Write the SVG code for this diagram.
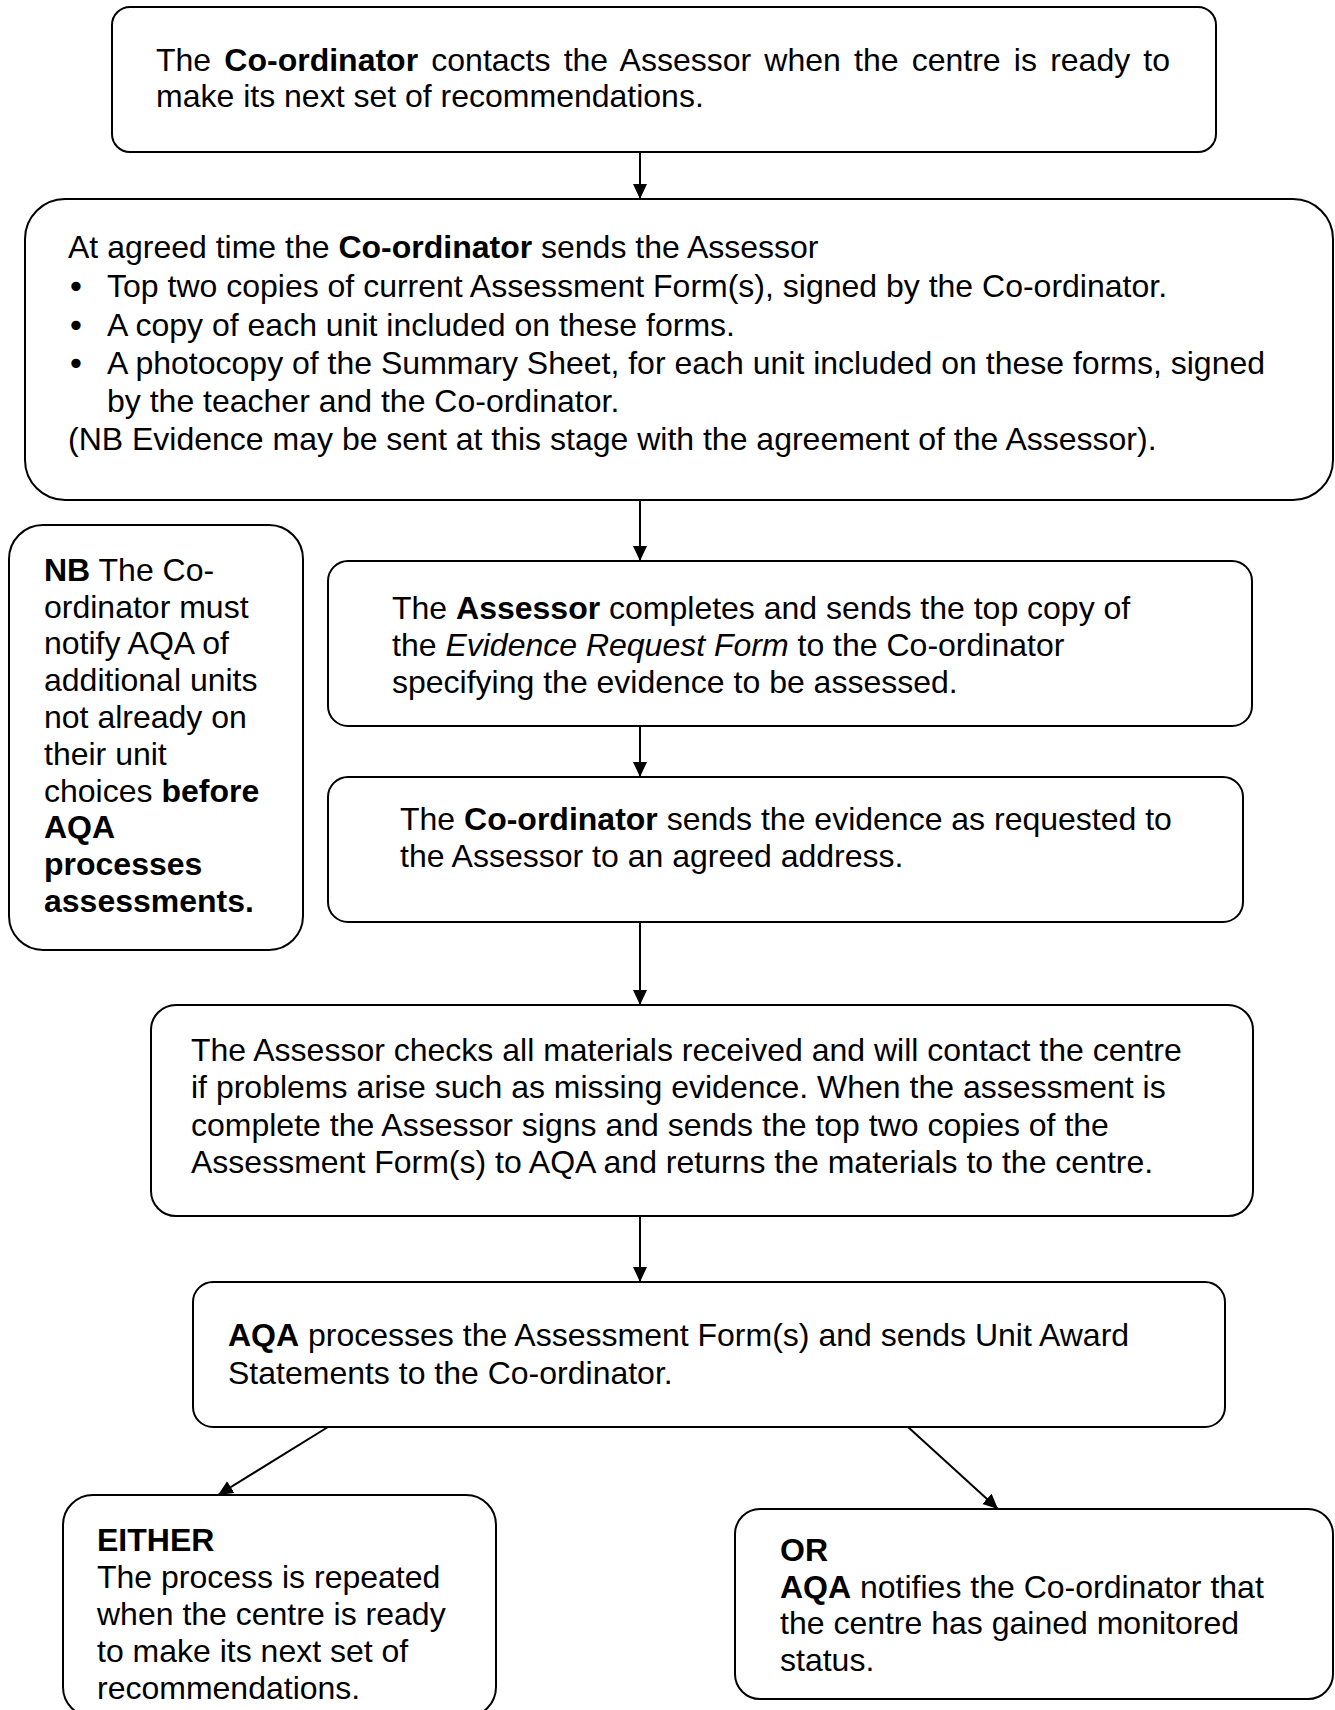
<svg xmlns="http://www.w3.org/2000/svg" width="1335" height="1710" viewBox="0 0 1335 1710">
<style>
.box{fill:#fff;stroke:#000;stroke-width:2}
text{font-family:"Liberation Sans",Arial,sans-serif;font-size:32px;fill:#000}
.b{font-weight:bold}
.i{font-style:italic}
.bul{font-family:"DejaVu Sans",sans-serif;font-size:32px}
.conn line{stroke:#000;stroke-width:2}
</style>
<defs>
<marker id="arr" markerUnits="userSpaceOnUse" markerWidth="16" markerHeight="16" refX="15" refY="7" orient="auto">
<path d="M0,0 L15,7 L0,14 z" fill="#000"/>
</marker>
</defs>
<rect width="1335" height="1710" fill="#fff"/>
<g class="conn">
<line x1="640" y1="152" x2="640" y2="199" marker-end="url(#arr)"/>
<line x1="640" y1="500" x2="640" y2="561" marker-end="url(#arr)"/>
<line x1="640" y1="726" x2="640" y2="777" marker-end="url(#arr)"/>
<line x1="640" y1="922" x2="640" y2="1005" marker-end="url(#arr)"/>
<line x1="640" y1="1216" x2="640" y2="1282" marker-end="url(#arr)"/>
<line x1="328" y1="1427" x2="218" y2="1495" marker-end="url(#arr)"/>
<line x1="908" y1="1427" x2="998" y2="1509" marker-end="url(#arr)"/>
</g>
<g id="n1">
<rect class="box" x="112" y="7" width="1104" height="145" rx="18"/>
<text x="156" y="71" word-spacing="4.3">The <tspan class="b">Co-ordinator</tspan> contacts the Assessor when the centre is ready to</text>
<text x="156" y="107">make its next set of recommendations.</text>
</g>
<g id="n2">
<rect class="box" x="25" y="199" width="1308" height="301" rx="40"/>
<text x="68" y="258">At agreed time the <tspan class="b">Co-ordinator</tspan> sends the Assessor</text>
<text class="bul" x="76" y="298" text-anchor="middle">•</text>
<text x="107" y="297">Top two copies of current Assessment Form(s), signed by the Co-ordinator.</text>
<text class="bul" x="76" y="337" text-anchor="middle">•</text>
<text x="107" y="336">A copy of each unit included on these forms.</text>
<text class="bul" x="76" y="375" text-anchor="middle">•</text>
<text x="107" y="374">A photocopy of the Summary Sheet, for each unit included on these forms, signed</text>
<text x="107" y="412">by the teacher and the Co-ordinator.</text>
<text x="68" y="450">(NB Evidence may be sent at this stage with the agreement of the Assessor).</text>
</g>
<g id="nb">
<rect class="box" x="9" y="525" width="294" height="425" rx="34"/>
<text x="44" y="581"><tspan class="b">NB</tspan> The Co-</text>
<text x="44" y="618">ordinator must</text>
<text x="44" y="654">notify AQA of</text>
<text x="44" y="691">additional units</text>
<text x="44" y="728">not already on</text>
<text x="44" y="765">their unit</text>
<text x="44" y="802">choices <tspan class="b">before</tspan></text>
<text x="44" y="838" class="b">AQA</text>
<text x="44" y="875" class="b">processes</text>
<text x="44" y="912" class="b">assessments.</text>
</g>
<g id="n3">
<rect class="box" x="328" y="561" width="924" height="165" rx="20"/>
<text x="392" y="619">The <tspan class="b">Assessor</tspan> completes and sends the top copy of</text>
<text x="392" y="656">the <tspan class="i">Evidence Request Form</tspan> to the Co-ordinator</text>
<text x="392" y="693">specifying the evidence to be assessed.</text>
</g>
<g id="n4">
<rect class="box" x="328" y="777" width="915" height="145" rx="20"/>
<text x="400" y="830">The <tspan class="b">Co-ordinator</tspan> sends the evidence as requested to</text>
<text x="400" y="867">the Assessor to an agreed address.</text>
</g>
<g id="n5">
<rect class="box" x="151" y="1005" width="1102" height="211" rx="25"/>
<text x="191" y="1061">The Assessor checks all materials received and will contact the centre</text>
<text x="191" y="1098">if problems arise such as missing evidence. When the assessment is</text>
<text x="191" y="1136">complete the Assessor signs and sends the top two copies of the</text>
<text x="191" y="1173">Assessment Form(s) to AQA and returns the materials to the centre.</text>
</g>
<g id="n6">
<rect class="box" x="193" y="1282" width="1032" height="145" rx="20"/>
<text x="228" y="1346"><tspan class="b">AQA</tspan> processes the Assessment Form(s) and sends Unit Award</text>
<text x="228" y="1384">Statements to the Co-ordinator.</text>
</g>
<g id="n7">
<rect class="box" x="63" y="1495" width="433" height="222" rx="30"/>
<text x="97" y="1551" class="b">EITHER</text>
<text x="97" y="1588">The process is repeated</text>
<text x="97" y="1625">when the centre is ready</text>
<text x="97" y="1662">to make its next set of</text>
<text x="97" y="1699">recommendations.</text>
</g>
<g id="n8">
<rect class="box" x="735" y="1509" width="598" height="190" rx="25"/>
<text x="780" y="1561" class="b">OR</text>
<text x="780" y="1598"><tspan class="b">AQA</tspan> notifies the Co-ordinator that</text>
<text x="780" y="1634">the centre has gained monitored</text>
<text x="780" y="1671">status.</text>
</g>
</svg>
